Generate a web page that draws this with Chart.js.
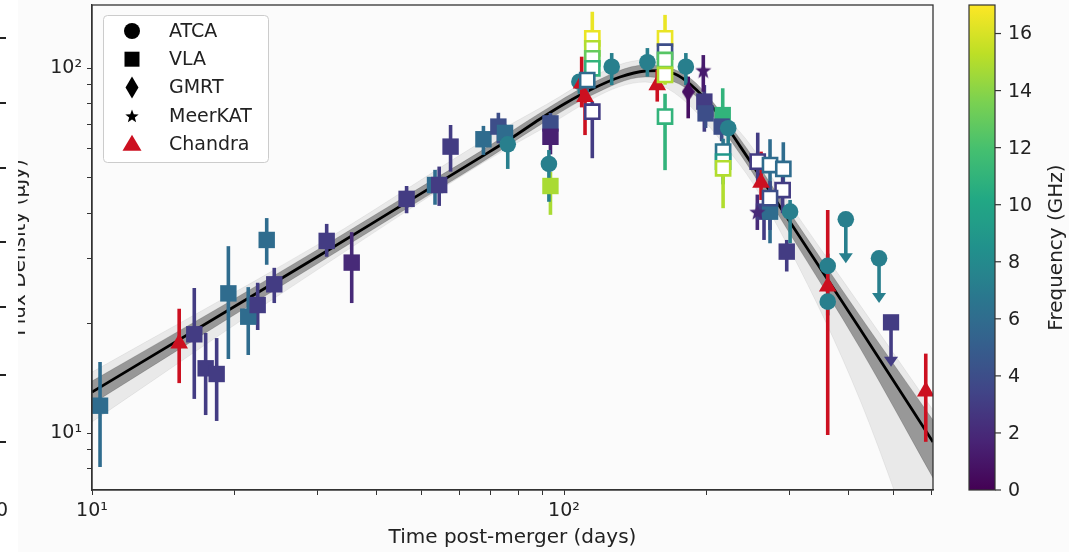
<!DOCTYPE html>
<html><head><meta charset="utf-8">
<script src="https://cdn.jsdelivr.net/npm/chart.js@4/dist/chart.umd.min.js"></script>
<style>html,body{margin:0;padding:0;background:#fbfbfb;}canvas{display:block}</style>
</head><body>
<canvas id="c" width="1069" height="552"></canvas>
<script>
// ---------------- DATA ----------------
// ATCA (circles)
const atcaDays = [76.0, 92.9, 107.8, 126.2, 150.2, 181.2, 222.8, 301.3, 362, 362];
const atcaFlux = [61.8, 54.6, 91.7, 100.8, 103.7, 100.8, 68.4, 40.4, 28.7, 22.9];
const atcaLo   = [52.9, 43.0, 85.0, 89.8, 94.7, 89.8, 60.0, 33.1, 26.0, 21.0];
const atcaHi   = [66.2, 59.6, 96.0, 109.9, 113.4, 109.9, 74.0, 43.5, 31.0, 24.5];
const atcaGHz  = [7.25, 7.25, 7.25, 7.25, 7.25, 7.25, 7.25, 7.25, 7.25, 7.25];
// ATCA upper limits
const atcaUlDays = [395.4, 465];
const atcaUlFlux = [38.5, 30.1];
const atcaUlTip  = [29.2, 22.7];
const atcaUlGHz  = [7.25, 7.25];
// VLA (filled squares)
const vlaDays = [10.4, 16.47, 17.41, 18.37, 19.45, 21.43, 22.44, 23.45, 24.33, 31.42, 35.5, 46.4, 53.3, 54.4, 57.5, 67.5, 72.6, 75.0, 93.6, 93.6, 93.6, 198.3, 199.5, 216.9, 215.8, 265.3, 273.2, 296.4];
const vlaFlux = [11.88, 18.64, 15.04, 14.51, 24.13, 20.83, 22.42, 33.8, 25.55, 33.6, 29.3, 43.8, 47.8, 47.8, 60.9, 63.8, 69.1, 66.4, 70.5, 64.8, 47.5, 80.9, 75.1, 74.3, 69.1, 40.4, 40.4, 31.4];
const vlaLo   = [8.07, 12.4, 11.2, 10.79, 15.95, 16.36, 19.15, 28.9, 22.7, 30.4, 22.7, 40.0, 42.2, 41.9, 52.0, 57.8, 62.2, 62.0, 66.4, 58.0, 39.6, 66.9, 68.5, 68.5, 63.0, 33.8, 33.1, 27.7];
const vlaHi   = [15.65, 24.96, 18.8, 18.2, 32.5, 25.1, 25.8, 38.8, 28.35, 37.4, 35.5, 47.5, 52.6, 53.7, 69.8, 69.4, 75.4, 70.0, 75.3, 70.0, 51.9, 89.8, 80.0, 88.0, 74.0, 45.0, 44.9, 33.8];
const vlaGHz  = [6, 3, 3, 3, 6, 6, 3, 6, 3, 3, 2, 3, 6, 3, 3, 6, 4, 6, 4, 1.5, 14.8, 3, 4, 11, 4, 3, 6, 3];
// VLA (open squares)
const vlaOpenDays = [114.8, 114.8, 114.8, 114.8, 112, 114.8, 163.7, 163.7, 163.7, 163.7, 163.7, 217.3, 217.3, 217.3, 257.3, 273.2, 291.5, 290.5, 273.2];
const vlaOpenFlux = [120.6, 113.2, 106.3, 99.8, 92.7, 75.9, 120.6, 110.8, 105.2, 95.7, 73.6, 59.0, 55.4, 53.1, 55.4, 54.2, 52.9, 46.3, 44.0];
const vlaOpenLo   = [108, 105, 98, 92, 86, 56.6, 113, 104, 98, 90, 52.5, 54, 48, 41.3, 48, 46, 45, 40, 36];
const vlaOpenHi   = [142.6, 125, 115, 107, 99, 80.9, 139.8, 118, 112, 103, 85, 64, 60, 57, 66.5, 63.8, 62.6, 52, 49];
const vlaOpenGHz  = [16.5, 15, 13, 11, 6, 3, 16.5, 4, 12.5, 15, 11, 6.5, 9, 15, 3, 6, 6, 3, 4];
// VLA upper limits
const vlaUlDays = [493];
const vlaUlFlux = [20.1];
const vlaUlTip  = [15.2];
const vlaUlGHz  = [3];
// GMRT (diamond)
const gmrtDays = [183.3];
const gmrtFlux = [86.1];
const gmrtLo   = [72.8];
const gmrtHi   = [94.7];
const gmrtGHz  = [0.65];
// MeerKAT (star)
const meerkatDays = [197.3, 256.8];
const meerkatFlux = [98.7, 40.4];
const meerkatLo   = [86.1, 36.0];
const meerkatHi   = [108.5, 45.0];
const meerkatGHz  = [1.28, 2.0];
// Chandra (red triangles)
const chandraDays = [15.3, 109.0, 110.8, 157.6, 261.5, 362, 584];
const chandraFlux = [17.6, 90.8, 83.4, 89.8, 48.5, 25.2, 13.0];
const chandraLo   = [13.7, 78.0, 65.5, 80.9, 43.5, 9.87, 9.46];
const chandraHi   = [21.9, 107.4, 90.0, 98.7, 59.0, 40.8, 16.5];
// Best-fit light curve
const fitDays = [10, 20.0, 29.97, 46.27, 57.36, 66.37, 76.85, 88.96, 100.5, 113.5, 131.4, 148.5, 159.7, 171.9, 184.9, 208.9, 236.0, 266.7, 301.2, 423.8, 605];
const fitFlux = [12.95, 22.17, 30.36, 42.76, 50.63, 56.83, 63.90, 72.50, 79.93, 87.03, 94.48, 98.13, 98.4, 96.3, 90.4, 76.7, 61.1, 48.1, 37.85, 19.27, 9.45];
// Spread of the grey posterior curves
const bandDays    = [10, 20.0, 29.97, 46.27, 66.37, 88.96, 113.5, 148.5, 184.9, 236.0, 301.2, 423.8, 605];
const bandInnerHi = [13.88, 23.29, 31.72, 44.61, 59.02, 75.28, 90.4, 101.9, 93.9, 63.9, 40.06, 20.92, 10.85];
const bandInnerLo = [12.01, 21.05, 29.04, 41.09, 54.72, 69.81, 83.8, 94.48, 86.5, 58.13, 35.1, 17.1, 7.53];
const outerDays   = [10, 29.97, 88.96, 148.5, 236.0, 301.2, 423.8, 605];
const bandOuterHi = [14.69, 32.74, 77.7, 105.2, 66.8, 42.14, 22.42, 11.56];
const bandOuterLo = [10.72, 27.96, 67.6, 91.5, 54.2, 31.72, 12.31, 3.49];
// Axes
const xTickDays = [10, 20, 30, 40, 50, 60, 70, 80, 90, 100, 200, 300, 400, 500, 600];
const yTickFlux = [8, 9, 10, 20, 30, 40, 50, 60, 70, 80, 90, 100];
const majorLabels = {10: '10\u00B9', 100: '10\u00B2'};
const cbarTicks = [0, 2, 4, 6, 8, 10, 12, 14, 16];
const cbarMax = 17;

// ---------------- helpers ----------------
const FONT = "'DejaVu Sans', sans-serif";
const VIR = ['#440154','#482475','#414487','#355f8d','#2a788e','#21918c','#22a884','#44bf70','#7ad151','#bddf26','#fde725'];
function hx(h){return [parseInt(h.slice(1,3),16),parseInt(h.slice(3,5),16),parseInt(h.slice(5,7),16)];}
function viridis(nu){
  let t = Math.max(0, Math.min(1, nu / cbarMax)) * 10;
  const i = Math.min(9, Math.floor(t)); const f = t - i;
  const a = hx(VIR[i]), b = hx(VIR[i+1]);
  return 'rgb(' + a.map((v,k)=>Math.round(v + (b[k]-v)*f)).join(',') + ')';
}
const RED = '#cc1020';
function shape(kind, color, w, h){
  const c = document.createElement('canvas'); c.width = w; c.height = h;
  const g = c.getContext('2d'); g.fillStyle = color; g.beginPath();
  if (kind === 'star') {
    for (let k = 0; k < 10; k++) {
      const r = k % 2 === 0 ? w/2 : w/2*0.42;
      const a = -Math.PI/2 + k*Math.PI/5;
      g.lineTo(w/2 + r*Math.cos(a), h/2 + 1 + r*Math.sin(a));
    }
  } else {
    g.moveTo(w/2, 0); g.lineTo(w, h/2); g.lineTo(w/2, h); g.lineTo(0, h/2);
  }
  g.closePath(); g.fill(); return c;
}
const pts = (xs, ys) => xs.map((x, i) => ({x, y: ys[i]}));

const errSeries = [
  {days: vlaDays, lo: vlaLo, hi: vlaHi, col: vlaGHz.map(viridis)},
  {days: gmrtDays, lo: gmrtLo, hi: gmrtHi, col: gmrtGHz.map(viridis)},
  {days: meerkatDays, lo: meerkatLo, hi: meerkatHi, col: meerkatGHz.map(viridis)},
  {days: atcaDays, lo: atcaLo, hi: atcaHi, col: atcaGHz.map(viridis)},
  {days: chandraDays, lo: chandraLo, hi: chandraHi, col: chandraDays.map(()=>RED)},
  {days: vlaOpenDays, lo: vlaOpenLo, hi: vlaOpenHi, col: vlaOpenGHz.map(viridis)}
];
const ulSeries = [
  {days: atcaUlDays, flux: atcaUlFlux, tip: atcaUlTip, col: atcaUlGHz.map(viridis)},
  {days: vlaUlDays, flux: vlaUlFlux, tip: vlaUlTip, col: vlaUlGHz.map(viridis)}
];

const errPlugin = {
  id: 'errbars',
  afterDatasetDraw(chart, args) {
    if (chart.data.datasets[args.index].id !== 'fit') return;
    const ctx = chart.ctx, xs = chart.scales.x, ys = chart.scales.y, a = chart.chartArea;
    ctx.save();
    ctx.beginPath(); ctx.rect(a.left, a.top, a.right - a.left, a.bottom - a.top); ctx.clip();
    ctx.lineWidth = 3.6; ctx.lineCap = 'butt';
    errSeries.forEach(s => s.days.forEach((d, i) => {
      const x = xs.getPixelForValue(d);
      ctx.strokeStyle = s.col[i];
      ctx.beginPath(); ctx.moveTo(x, ys.getPixelForValue(s.lo[i])); ctx.lineTo(x, ys.getPixelForValue(s.hi[i])); ctx.stroke();
    }));
    ulSeries.forEach(s => s.days.forEach((d, i) => {
      const x = xs.getPixelForValue(d), y0 = ys.getPixelForValue(s.flux[i]), y1 = ys.getPixelForValue(s.tip[i]);
      ctx.strokeStyle = s.col[i]; ctx.fillStyle = s.col[i];
      ctx.beginPath(); ctx.moveTo(x, y0); ctx.lineTo(x, y1 - 6); ctx.stroke();
      ctx.beginPath(); ctx.moveTo(x - 7, y1 - 10); ctx.lineTo(x + 7, y1 - 10); ctx.lineTo(x, y1); ctx.closePath(); ctx.fill();
    }));
    ctx.restore();
  }
};

const decoPlugin = {
  id: 'deco',
  beforeDraw(chart) {
    const ctx = chart.ctx;
    ctx.save(); ctx.fillStyle = '#fbfbfb'; ctx.fillRect(0, 0, chart.width, chart.height); ctx.restore();
  },
  afterDraw(chart) {
    const ctx = chart.ctx, a = chart.chartArea;
    ctx.save();
    // frame
    ctx.strokeStyle = '#333'; ctx.lineWidth = 1.3;
    ctx.strokeRect(a.left, a.top, a.right - a.left, a.bottom - a.top);
    // y title
    ctx.save();
    ctx.translate(25, (a.top + a.bottom) / 2); ctx.rotate(-Math.PI / 2);
    ctx.font = '20px ' + FONT; ctx.fillStyle = '#222'; ctx.textAlign = 'center'; ctx.textBaseline = 'alphabetic';
    ctx.fillText('Flux Density (\u03BCJy)', 0, 0);
    ctx.restore();
    // left white strip from neighbouring panel
    ctx.fillStyle = '#ffffff'; ctx.fillRect(0, 0, 18, chart.height);
    ctx.fillStyle = '#222';
    [38, 103, 168, 242, 307, 375, 442].forEach(y => ctx.fillRect(0, y - 1, 6, 2));
    ctx.font = '19px ' + FONT; ctx.textAlign = 'right'; ctx.textBaseline = 'middle';
    ctx.fillText('0', 8, 511);
    // legend
    const L = {x: 103, y: 15, w: 165, h: 147};
    ctx.fillStyle = 'rgba(255,255,255,0.85)'; ctx.strokeStyle = '#cccccc'; ctx.lineWidth = 1;
    ctx.beginPath(); ctx.roundRect(L.x + 0.5, L.y + 0.5, L.w, L.h, 4); ctx.fill(); ctx.stroke();
    const names = ['ATCA', 'VLA', 'GMRT', 'MeerKAT', 'Chandra'];
    const mx = 132, tx = 169;
    names.forEach((n, i) => {
      const y = 31 + i * 28.2;
      ctx.fillStyle = i === 4 ? RED : '#000';
      ctx.beginPath();
      if (i === 0) ctx.arc(mx, y, 8, 0, Math.PI * 2);
      else if (i === 1) ctx.rect(mx - 7.5, y - 7.5, 15, 15);
      else if (i === 2) { ctx.moveTo(mx, y - 11); ctx.lineTo(mx + 6.5, y); ctx.lineTo(mx, y + 11); ctx.lineTo(mx - 6.5, y); }
      else if (i === 3) { for (let k = 0; k < 10; k++) { const r = k % 2 === 0 ? 7 : 3; const an = -Math.PI/2 + k*Math.PI/5; ctx.lineTo(mx + r*Math.cos(an), y + 1 + r*Math.sin(an)); } }
      else { ctx.moveTo(mx, y - 9); ctx.lineTo(mx + 9.5, y + 7); ctx.lineTo(mx - 9.5, y + 7); }
      ctx.closePath(); ctx.fill();
      ctx.fillStyle = '#222'; ctx.font = '19px ' + FONT; ctx.textAlign = 'left'; ctx.textBaseline = 'middle';
      ctx.fillText(n, tx, y + 1);
    });
    // colorbar
    const cb = {l: 969, r: 995, t: a.top, b: a.bottom};
    const grd = ctx.createLinearGradient(0, cb.b, 0, cb.t);
    for (let k = 0; k <= 20; k++) grd.addColorStop(k / 20, viridis(k / 20 * cbarMax));
    ctx.fillStyle = grd; ctx.fillRect(cb.l, cb.t, cb.r - cb.l, cb.b - cb.t);
    ctx.strokeStyle = '#333'; ctx.lineWidth = 1.2; ctx.strokeRect(cb.l, cb.t, cb.r - cb.l, cb.b - cb.t);
    ctx.fillStyle = '#222'; ctx.font = '19px ' + FONT; ctx.textAlign = 'left'; ctx.textBaseline = 'middle';
    cbarTicks.forEach(v => {
      const y = cb.b - v / cbarMax * (cb.b - cb.t);
      ctx.beginPath(); ctx.moveTo(cb.r, y); ctx.lineTo(cb.r + 6, y); ctx.stroke();
      ctx.fillText(String(v), cb.r + 13, y + 1);
    });
    ctx.save();
    ctx.translate(1062, (cb.t + cb.b) / 2); ctx.rotate(-Math.PI / 2);
    ctx.font = '20px ' + FONT; ctx.textAlign = 'center'; ctx.textBaseline = 'alphabetic';
    ctx.fillText('Frequency (GHz)', 0, 0);
    ctx.restore();
    ctx.restore();
  }
};

const tickFont = {family: FONT, size: 19};
const mono = 'monotone';
const datasets = [
  {id: 'vlaOpen', type: 'scatter', data: pts(vlaOpenDays, vlaOpenFlux), order: 1,
   pointStyle: 'rect', pointRadius: 10, pointBackgroundColor: '#ffffff', pointBorderColor: vlaOpenGHz.map(viridis), pointBorderWidth: 2.6},
  {id: 'vlaUl', type: 'scatter', data: pts(vlaUlDays, vlaUlFlux), order: 2,
   pointStyle: 'rect', pointRadius: 11.5, pointBackgroundColor: vlaUlGHz.map(viridis), pointBorderWidth: 0},
  {id: 'chandra', type: 'scatter', data: pts(chandraDays, chandraFlux), order: 3,
   pointStyle: 'triangle', pointRadius: 10.2, pointBackgroundColor: RED, pointBorderWidth: 0},
  {id: 'atcaUl', type: 'scatter', data: pts(atcaUlDays, atcaUlFlux), order: 4,
   pointStyle: 'circle', pointRadius: 8.3, pointBackgroundColor: atcaUlGHz.map(viridis), pointBorderWidth: 0},
  {id: 'atca', type: 'scatter', data: pts(atcaDays, atcaFlux), order: 5,
   pointStyle: 'circle', pointRadius: 8.3, pointBackgroundColor: atcaGHz.map(viridis), pointBorderWidth: 0},
  {id: 'meerkat', type: 'scatter', data: pts(meerkatDays, meerkatFlux), order: 6,
   pointStyle: meerkatGHz.map(n => shape('star', viridis(n), 17, 17)), pointRadius: 8, pointBorderWidth: 0},
  {id: 'gmrt', type: 'scatter', data: pts(gmrtDays, gmrtFlux), order: 7,
   pointStyle: gmrtGHz.map(n => shape('diamond', viridis(n), 13, 20)), pointRadius: 8, pointBorderWidth: 0},
  {id: 'vla', type: 'scatter', data: pts(vlaDays, vlaFlux), order: 8,
   pointStyle: 'rect', pointRadius: 11.6, pointBackgroundColor: vlaGHz.map(viridis), pointBorderWidth: 0},
  {id: 'fit', type: 'line', data: pts(fitDays, fitFlux), order: 20, showLine: true,
   borderColor: '#000', borderWidth: 2.8, pointRadius: 0, cubicInterpolationMode: mono, fill: false},
  {id: 'innerHi', type: 'line', data: pts(bandDays, bandInnerHi), order: 30, showLine: true,
   borderColor: 'rgba(0,0,0,0.15)', borderWidth: 1, pointRadius: 0, cubicInterpolationMode: mono, fill: false},
  {id: 'innerLo', type: 'line', data: pts(bandDays, bandInnerLo), order: 31, showLine: true,
   borderColor: 'rgba(0,0,0,0.15)', borderWidth: 1, pointRadius: 0, cubicInterpolationMode: mono, fill: '-1', backgroundColor: 'rgba(40,40,40,0.42)'},
  {id: 'outerHi', type: 'line', data: pts(outerDays, bandOuterHi), order: 40, showLine: true,
   borderColor: 'rgba(0,0,0,0.06)', borderWidth: 1, pointRadius: 0, cubicInterpolationMode: mono, fill: false},
  {id: 'outerLo', type: 'line', data: pts(outerDays, bandOuterLo), order: 41, showLine: true,
   borderColor: 'rgba(0,0,0,0.06)', borderWidth: 1, pointRadius: 0, cubicInterpolationMode: mono, fill: '-1', backgroundColor: 'rgba(0,0,0,0.07)'}
];

new Chart(document.getElementById('c'), {
  type: 'scatter',
  data: {datasets},
  options: {
    responsive: false, animation: false, devicePixelRatio: 1,
    layout: {autoPadding: false, padding: {left: 0, top: 5, right: 136, bottom: 0}},
    plugins: {legend: {display: false}, tooltip: {enabled: false}, filler: {propagate: false}},
    scales: {
      x: {type: 'logarithmic', position: 'bottom', min: 10, max: 605,
        afterBuildTicks: s => { s.ticks = xTickDays.map(v => ({value: v})); },
        afterFit: s => { s.height = 62; s.paddingLeft = 0; s.paddingRight = 0; },
        ticks: {autoSkip: false, maxRotation: 0, padding: 5, color: '#222', font: tickFont,
          callback: v => majorLabels[v] || ''},
        grid: {drawOnChartArea: false, drawTicks: true, tickLength: 5, color: '#333', tickColor: '#333'},
        border: {display: true, color: '#333', width: 1.3},
        title: {display: true, text: 'Time post-merger (days)', color: '#222', font: {family: FONT, size: 20}, padding: {top: 0, bottom: 2}}
      },
      y: {type: 'logarithmic', position: 'left', min: 6.98, max: 148.8,
        afterBuildTicks: s => { s.ticks = yTickFlux.map(v => ({value: v})); },
        afterFit: s => { s.width = 92; s.paddingTop = 0; s.paddingBottom = 0; },
        ticks: {autoSkip: false, padding: 5, color: '#222', font: tickFont,
          callback: v => majorLabels[v] || ''},
        grid: {drawOnChartArea: false, drawTicks: true, tickLength: 5, color: '#333', tickColor: '#333'},
        border: {display: true, color: '#333', width: 1.3},
        title: {display: false}
      }
    }
  },
  plugins: [decoPlugin, errPlugin]
});
</script>
</body></html>
